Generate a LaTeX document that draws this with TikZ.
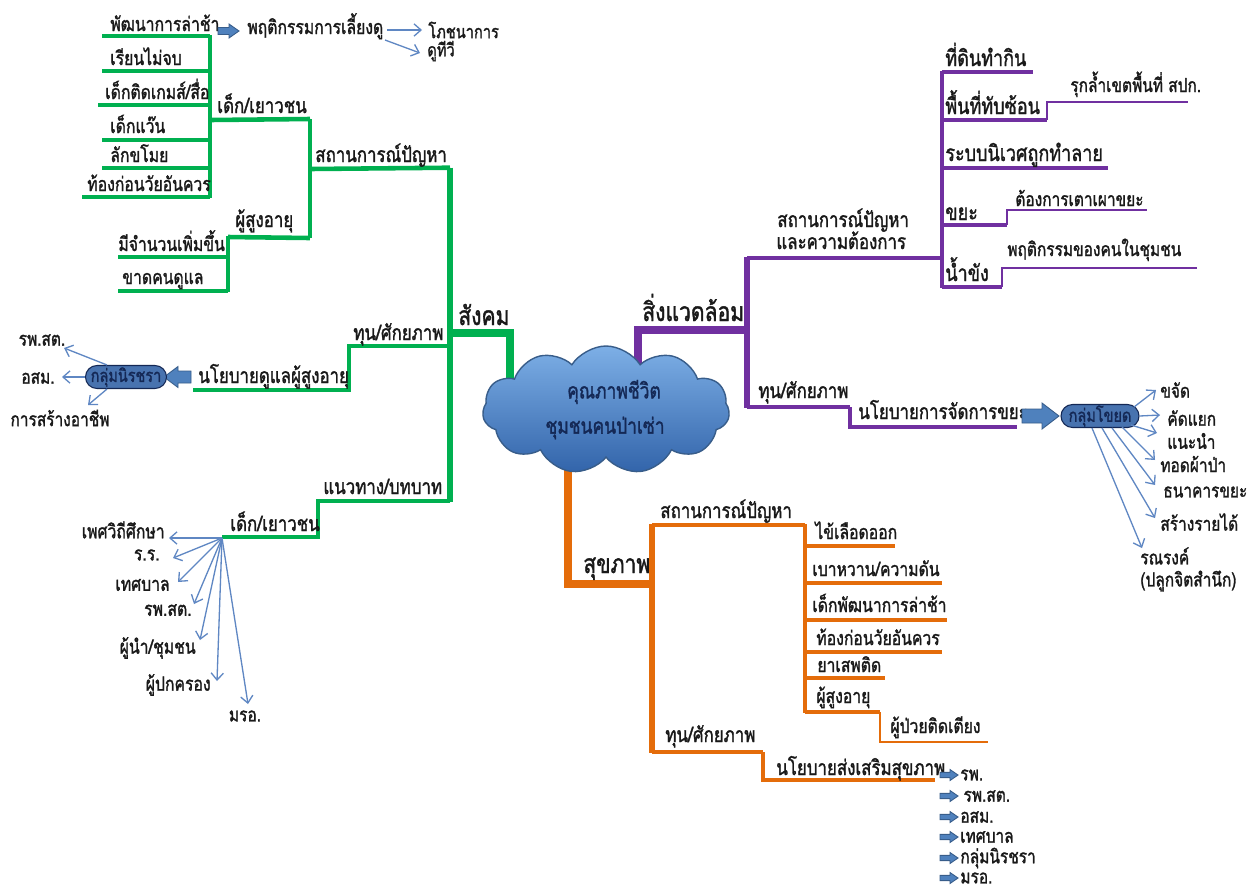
\documentclass[tikz,border=0pt]{standalone}
\usepackage{fontspec}
\newfontfamily\thai[Script=Thai,FakeStretch=0.8,FakeBold=1.4]{Loma}
\usetikzlibrary{shapes.symbols,shapes.misc,arrows.meta}
\newdimen\PX \PX=0.02cm
\definecolor{cgreen}{RGB}{0,176,80}
\definecolor{cpurple}{RGB}{112,48,160}
\definecolor{corange}{RGB}{228,108,10}
\definecolor{cthin}{RGB}{95,135,195}
\definecolor{cblock}{RGB}{79,129,189}
\definecolor{cblockd}{RGB}{56,93,138}
\definecolor{cpill}{RGB}{72,115,175}
\definecolor{cnavy}{RGB}{20,40,85}
\definecolor{ctext}{RGB}{25,25,25}
\definecolor{cloudtop}{RGB}{125,175,230}
\definecolor{cloudbot}{RGB}{50,100,170}
\newcommand{\mmleaf}[9]{\coordinate (#1s) at (#3,#5);\coordinate (#1e) at (#4,#5);\draw[#2] (#1s) -- (#1e);\node[#6] (#1) at (#7,#8) {#9};}
% block arrow: #1 tail x, #2 neck x, #3 tip x, #4 y, #5 head half height, #6 shaft half height
\newcommand{\mmarrow}[6]{\path[blk] (#1,{#4-#6}) -- (#2,{#4-#6}) -- (#2,{#4-#5}) -- (#3,#4) -- (#2,{#4+#5}) -- (#2,{#4+#6}) -- (#1,{#4+#6}) -- cycle;}
\begin{document}
\begin{tikzpicture}[x=0.02cm,y=-0.02cm,
  lbl/.style={font=\thai\fontsize{11.2}{13}\selectfont, text=ctext, inner sep=0pt, anchor=base west},
  plbl/.style={lbl, font=\thai\fontsize{12.8}{15}\selectfont},
  psubl/.style={lbl, font=\thai\fontsize{11}{13}\selectfont},
  sec/.style={lbl, font=\thai\fontsize{12}{14}\selectfont},
  topl/.style={lbl, font=\thai\fontsize{15}{17}\selectfont},
  sml/.style={lbl, font=\thai\fontsize{11.2}{13}\selectfont, anchor=east},
  smlc/.style={lbl, font=\thai\fontsize{11}{13}\selectfont, anchor=center},
  topw/.style={lbl, font=\thai\fontsize{10.4}{12}\selectfont, anchor=west},
  pw/.style={lbl, font=\thai\fontsize{11}{13}\selectfont, anchor=west},
  ow/.style={lbl, font=\thai\fontsize{11}{13}\selectfont, anchor=west},
  cloudtxt/.style={font=\thai\fontsize{12.4}{15}\selectfont, text=cnavy, inner sep=0pt, anchor=center},
  thinarr/.style={draw=cthin, line width=0.75pt, -{Straight Barb[length=4pt,width=7pt]}},
  blk/.style={fill=cblock, draw=cblockd, line width=0.5pt, line join=miter},
  pill/.style={rounded rectangle, fill=cpill, draw=cnavy, line width=0.6pt, text=cnavy, inner sep=0pt, minimum width=78\PX, minimum height=23\PX, font=\thai\fontsize{10.3}{12}\selectfont},
  gtrunk/.style={draw=cgreen, line width=5pt},
  gmain/.style={draw=cgreen, line width=3.4pt},
  gsec/.style={draw=cgreen, line width=2.6pt},
  gleaf/.style={draw=cgreen, line width=1.8pt},
  ptrunk/.style={draw=cpurple, line width=5pt},
  pmain/.style={draw=cpurple, line width=3pt},
  psec/.style={draw=cpurple, line width=2.6pt},
  pleaf/.style={draw=cpurple, line width=1.8pt},
  psub/.style={draw=cpurple, line width=0.9pt},
  otrunk/.style={draw=corange, line width=5pt},
  omain/.style={draw=corange, line width=3pt},
  osec/.style={draw=corange, line width=2.6pt},
  oleaf/.style={draw=corange, line width=1.8pt},
  osub/.style={draw=corange, line width=1.2pt},
]
\fill[white] (0,0) rectangle (1256,890);
\useasboundingbox (0,0) rectangle (1256,890);

% ================= GREEN : สังคม =================
\coordinate (gC) at (510,385); \coordinate (gK) at (510,333); \coordinate (gJ) at (448,333);
\draw[gtrunk] (gC) -- (gK) -- (gJ);
\node[topl] (gtop) at (458,325) {สังคม};
\coordinate (gT) at (450,167.7); \coordinate (gB) at (450,502);
\draw[gmain] (gT) -- (gB);
% สถานการณ์ปัญหา
\coordinate (g0a) at (310,169);
\draw[gsec] (gT) -- (g0a);
\node[sec] (g0) at (315,162) {สถานการณ์ปัญหา};
\coordinate (g1v) at (310,119); \coordinate (g2v) at (310,238);
\draw[gsec] (g1v) -- (g2v);
% เด็ก/เยาวชน
\coordinate (g1a) at (210,120);
\draw[gsec] (g1v) -- (g1a);
\node[sec] (g1) at (217,113) {เด็ก/เยาวชน};
\coordinate (g1t) at (210,35); \coordinate (g1b) at (210,198);
\draw[gleaf] (g1t) -- (g1b);
\mmleaf{gl1}{gleaf}{102}{210}{36}{lbl}{110}{31}{พัฒนาการล่าช้า}
\mmleaf{gl2}{gleaf}{102}{210}{71}{lbl}{110}{65}{เรียนไม่จบ}
\mmleaf{gl3}{gleaf}{98}{210}{105}{lbl}{105}{99}{เด็กติดเกมส์/สื่อ}
\mmleaf{gl4}{gleaf}{102}{210}{140}{lbl}{110}{133}{เด็กแว๊น}
\mmleaf{gl5}{gleaf}{102}{210}{168}{lbl}{110}{162}{ลักขโมย}
\mmleaf{gl6}{gleaf}{82}{210}{197}{lbl}{87}{191}{ท้องก่อนวัยอันควร}
% ผู้สูงอายุ
\coordinate (g2a) at (228,237);
\draw[gsec] (g2v) -- (g2a);
\node[sec] (g2) at (235,227) {ผู้สูงอายุ};
\coordinate (g2t) at (228,236); \coordinate (g2b) at (228,292);
\draw[gleaf] (g2t) -- (g2b);
\mmleaf{gl7}{gleaf}{118}{228}{257}{lbl}{118}{251}{มีจำนวนเพิ่มขึ้น}
\mmleaf{gl8}{gleaf}{118}{228}{291}{lbl}{122}{284}{ขาดคนดูแล}
% ทุน/ศักยภาพ
\coordinate (g3a) at (450,346); \coordinate (g3b) at (349,346); \coordinate (g3c) at (349,390); \coordinate (g3d) at (193,390);
\draw[gsec] (g3a) -- (g3b) -- (g3c) -- (g3d);
\node[sec] (g3) at (353,340) {ทุน/ศักยภาพ};
\node[sec] (g4) at (198,383) {นโยบายดูแลผู้สูงอายุ};
\mmarrow{191}{178}{164}{377}{10.5}{6}
\node[pill] (gpill) at (126,377) {กลุ่มนิรชรา};
\node[smlc] (gp1) at (42,340) {รพ.สต.};
\node[smlc] (gp2) at (38,378) {อสม.};
\node[smlc] (gp3) at (60,418) {การสร้างอาชีพ};
\coordinate (gp1t) at (64,348); \coordinate (gp2t) at (62,377); \coordinate (gp3t) at (88,405);
\draw[thinarr] (gpill.north west) ++(10,0) coordinate (gp1o) -- (gp1t);
\draw[thinarr] (gpill.west) -- (gp2t);
\draw[thinarr] (gpill.south west) ++(10,0) coordinate (gp3o) -- (gp3t);
% แนวทาง/บทบาท
\coordinate (g5a) at (450,501); \coordinate (g5b) at (318,501); \coordinate (g5c) at (318,537); \coordinate (g5d) at (222,537);
\draw[gsec] (g5a) -- (g5b) -- (g5c) -- (g5d);
\node[sec] (g5) at (323,494) {แนวทาง/บทบาท};
\node[sec] (g6) at (230,531) {เด็ก/เยาวชน};
\node[sml] (gf1) at (165,530) {เพศวิถีศึกษา};
\node[sml] (gf2) at (160,555) {ร.ร.};
\node[sml] (gf3) at (170,585) {เทศบาล};
\node[sml] (gf4) at (192,610) {รพ.สต.};
\node[sml] (gf5) at (196,648) {ผู้นำ/ชุมชน};
\node[sml] (gf6) at (211,685) {ผู้ปกครอง};
\node[smlc] (gf7) at (245,716) {มรอ.};
\coordinate (gfo) at (222,538);
\draw[thinarr] (gfo) -- (169,538) coordinate (gf1t);
\draw[thinarr] (gfo) -- (173,558) coordinate (gf2t);
\draw[thinarr] (gfo) -- (178,582) coordinate (gf3t);
\draw[thinarr] (gfo) -- (194,604) coordinate (gf4t);
\draw[thinarr] (gfo) -- (200,640) coordinate (gf5t);
\draw[thinarr] (gfo) -- (217,681) coordinate (gf6t);
\draw[thinarr] (gfo) -- (248,704) coordinate (gf7t);
% top: พฤติกรรมการเลี้ยงดู
\mmarrow{218}{229}{239}{31}{7}{3.5}
\node[lbl] (gtp) at (247,34) {พฤติกรรมการเลี้ยงดู};
\node[topw] (gt1) at (428,30) {โภชนาการ};
\node[topw] (gt2) at (427,51) {ดูทีวี};
\coordinate (gt1o) at (387,30); \coordinate (gt2o) at (385,40);
\draw[thinarr] (gt1o) -- (422,30) coordinate (gt1t);
\draw[thinarr] (gt2o) -- (420,53) coordinate (gt2t);

% ================= PURPLE : สิ่งแวดล้อม =================
\coordinate (pC) at (638,370); \coordinate (pK) at (638,330); \coordinate (pJ) at (749,330);
\draw[ptrunk] (pC) -- (pK) -- (pJ);
\node[topl] (ptop) at (642,321) {สิ่งแวดล้อม};
\coordinate (pT) at (747,256.7); \coordinate (pB) at (747,408);
\draw[pmain] (pT) -- (pB);
\coordinate (p0a) at (747,258); \coordinate (p0b) at (942,258);
\draw[psec] (p0a) -- (p0b);
\node[sec] (p0) at (777,227) {สถานการณ์ปัญหา};
\node[sec] (p0x) at (776,249) {และความต้องการ};
\coordinate (pvt) at (942,71); \coordinate (pvb) at (942,288);
\draw[pleaf] (pvt) -- (pvb);
\mmleaf{pl1}{pleaf}{942}{1033}{72}{plbl}{945}{66}{ที่ดินทำกิน}
\mmleaf{pl2}{pleaf}{942}{1047}{120}{plbl}{945}{114}{พื้นที่ทับซ้อน}
\coordinate (pl2u) at (1047,102); \coordinate (pl2r) at (1188,102);
\draw[psub] (pl2e) -- (pl2u) -- (pl2r);
\node[psubl] (pl2x) at (1070,92) {รุกล้ำเขตพื้นที่ สปก.};
\mmleaf{pl3}{pleaf}{942}{1108}{168}{plbl}{945}{161}{ระบบนิเวศถูกทำลาย}
\mmleaf{pl4}{pleaf}{942}{1007}{225}{plbl}{945}{220}{ขยะ}
\coordinate (pl4u) at (1007,210); \coordinate (pl4r) at (1147,210);
\draw[psub] (pl4e) -- (pl4u) -- (pl4r);
\node[psubl] (pl4x) at (1015,206) {ต้องการเตาเผาขยะ};
\mmleaf{pl5}{pleaf}{942}{1002}{287}{plbl}{945}{281}{น้ำขัง}
\coordinate (pl5u) at (1002,268); \coordinate (pl5r) at (1197,268);
\draw[psub] (pl5e) -- (pl5u) -- (pl5r);
\node[psubl] (pl5x) at (1007,256) {พฤติกรรมของคนในชุมชน};
% ทุน/ศักยภาพ
\coordinate (p3a) at (747,407); \coordinate (p3b) at (850,407); \coordinate (p3c) at (850,427); \coordinate (p3d) at (1017,427);
\draw[psec] (p3a) -- (p3b);
\draw[pleaf] (p3b) -- (p3c) -- (p3d);
\node[sec] (p3) at (758,398) {ทุน/ศักยภาพ};
\node[sec] (p4) at (858,419) {นโยบายการจัดการขยะ};
\mmarrow{1022}{1042}{1059}{416}{13}{7}
\node[pill] (ppill) at (1100,416) {กลุ่มโขยด};
\node[pw] (pr1) at (1160,390) {ขจัด};
\node[pw] (pr2) at (1167,418) {คัดแยก};
\node[pw] (pr3) at (1167,441) {แนะนำ};
\node[pw] (pr4) at (1160,464) {ทอดผ้าป่า};
\node[pw] (pr5) at (1163,492) {ธนาคารขยะ};
\node[pw] (pr6) at (1160,522) {สร้างรายได้};
\node[pw] (pr7) at (1140,556) {รณรงค์};
\node[pw] (pr8) at (1140,581) {(ปลูกจิตสำนึก)};
\draw[thinarr] (1134,407) coordinate (pr1o) -- (1156,390) coordinate (pr1t);
\draw[thinarr] (ppill.east) -- (1160,415) coordinate (pr2t);
\draw[thinarr] (1131,425) coordinate (pr3o) -- (1157,433) coordinate (pr3t);
\draw[thinarr] (1122,427) coordinate (pr4o) -- (1155,460) coordinate (pr4t);
\draw[thinarr] (1112,428) coordinate (pr5o) -- (1155,485) coordinate (pr5t);
\draw[thinarr] (1102,428) coordinate (pr6o) -- (1155,518) coordinate (pr6t);
\draw[thinarr] (1092,428) coordinate (pr7o) -- (1142,548) coordinate (pr7t);

% ================= ORANGE : สุขภาพ =================
\coordinate (oC) at (568,455); \coordinate (oK) at (568,584); \coordinate (oJ) at (654,584);
\draw[otrunk] (oC) -- (oK) -- (oJ);
\node[topl] (otop) at (583,573) {สุขภาพ};
\coordinate (oT) at (652,523.7); \coordinate (oB) at (652,753);
\draw[omain] (oT) -- (oB);
\coordinate (o0a) at (652,525); \coordinate (o0b) at (805,525);
\draw[osec] (o0a) -- (o0b);
\node[sec] (o0) at (660,518) {สถานการณ์ปัญหา};
\coordinate (ovt) at (805,524); \coordinate (ovb) at (805,713);
\draw[oleaf] (ovt) -- (ovb);
\mmleaf{ol1}{oleaf}{805}{895}{546}{lbl}{815}{539}{ไข้เลือดออก}
\mmleaf{ol2}{oleaf}{805}{942}{583}{lbl}{812}{576}{เบาหวาน/ความดัน}
\mmleaf{ol3}{oleaf}{805}{947}{620}{lbl}{812}{612}{เด็กพัฒนาการล่าช้า}
\mmleaf{ol4}{oleaf}{805}{942}{652}{lbl}{816}{645}{ท้องก่อนวัยอันควร}
\mmleaf{ol5}{oleaf}{805}{885}{678}{lbl}{817}{672}{ยาเสพติด}
\mmleaf{ol6}{oleaf}{805}{880}{712}{lbl}{816}{703}{ผู้สูงอายุ}
\coordinate (ol6d) at (880,742); \coordinate (ol6r) at (988,742);
\draw[osub] (ol6e) -- (ol6d) -- (ol6r);
\node[lbl] (ol7) at (890,733) {ผู้ป่วยติดเตียง};
% ทุน/ศักยภาพ
\coordinate (o3a) at (652,752); \coordinate (o3b) at (763,752); \coordinate (o3c) at (763,780); \coordinate (o3d) at (935,780);
\draw[osec] (o3a) -- (o3b);
\draw[oleaf] (o3b) -- (o3c) -- (o3d);
\node[sec] (o3) at (665,742) {ทุน/ศักยภาพ};
\node[sec] (o4) at (776,775) {นโยบายส่งเสริมสุขภาพ};
\foreach \yy/\tx/\nm in {775/รพ./a, 796/{\,รพ.สต.}/b, 817/อสม./c, 837/เทศบาล/d, 858/กลุ่มนิรชรา/e, 878/มรอ./f}{
  \mmarrow{940}{950}{958}{\yy}{5.5}{2.6}
  \node[ow] (ot\nm) at (960,\yy) {\tx};
}

% ================= CENTRE CLOUD =================
\node[cloud, cloud puffs=11, cloud puff arc=115, aspect=1.9, minimum width=247\PX, minimum height=128\PX,
  top color=cloudtop, bottom color=cloudbot, draw=cblockd, line width=0.8pt, inner sep=0pt] (core) at (606,410) {};
\node[cloudtxt] (core1) at (614,392) {คุณภาพชีวิต};
\node[cloudtxt] (core2) at (605,428) {ชุมชนคนป่าเซ่า};
\end{tikzpicture}
\end{document}
